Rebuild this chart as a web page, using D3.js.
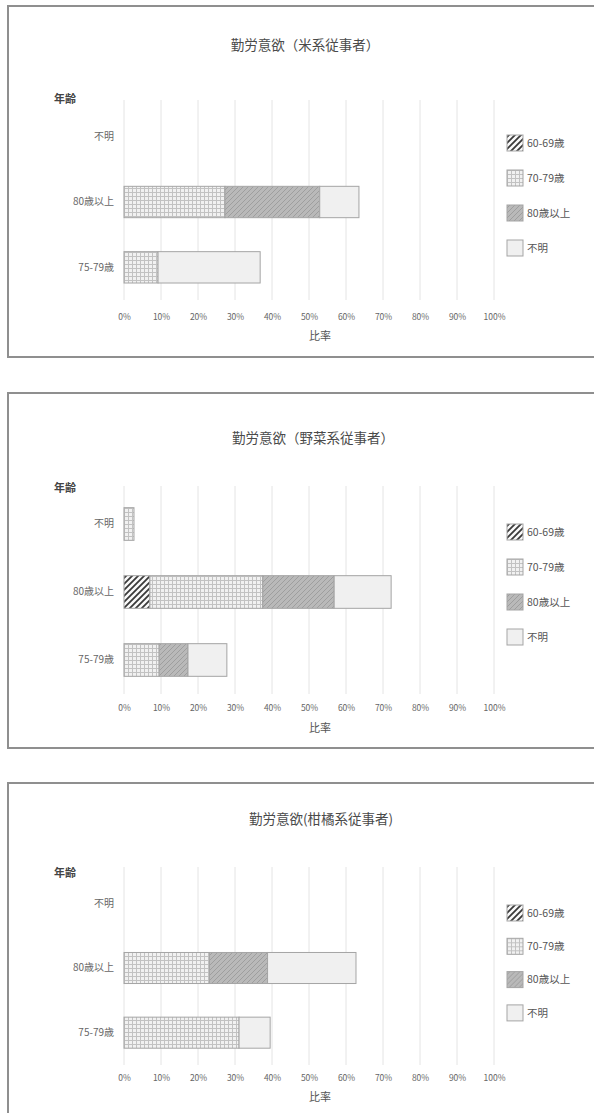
<!DOCTYPE html>
<html lang="ja">
<head>
<meta charset="utf-8">
<script src="https://cdn.jsdelivr.net/npm/d3@7"></script>
<style>
  html, body { margin: 0; padding: 0; background: #fff; }
  svg { display: block; }
  text { font-family: "Noto Sans CJK JP", "Noto Sans", sans-serif; }
</style>
</head>
<body>
<svg id="chart" width="594" height="1113"></svg>
<script>
// Age groups on the vertical axis (top to bottom)
const categories = ["不明", "80歳以上", "75-79歳"];
// Stacked series (legend order)
const seriesNames = ["60-69歳", "70-79歳", "80歳以上", "不明"];
const tickLabels = ["0%", "10%", "20%", "30%", "40%", "50%", "60%", "70%", "80%", "90%", "100%"];
const tickValues = [0, 10, 20, 30, 40, 50, 60, 70, 80, 90, 100];
const chartTitles = ["勤労意欲（米系従事者）", "勤労意欲（野菜系従事者）", "勤労意欲(柑橘系従事者)"];
const yAxisTitle = "年齢";
const xAxisTitle = "比率";

// Percentages per category: [不明, 80歳以上, 75-79歳]
const rice6069 = [0, 0, 0];
const rice7079 = [0, 27.3, 9.2];
const rice80 = [0, 25.6, 0];
const riceUnknown = [0, 10.6, 27.6];

const veg6069 = [0, 7.0, 0];
const veg7079 = [2.7, 30.5, 9.5];
const veg80 = [0, 19.3, 7.8];
const vegUnknown = [0, 15.4, 10.5];

const citrus6069 = [0, 0, 0];
const citrus7079 = [0, 23.1, 31.1];
const citrus80 = [0, 15.7, 0];
const citrusUnknown = [0, 23.9, 8.4];

const panelSeries = [
  [rice6069, rice7079, rice80, riceUnknown],
  [veg6069, veg7079, veg80, vegUnknown],
  [citrus6069, citrus7079, citrus80, citrusUnknown]
];

// Layout of each framed panel
const panelLayout = [
  {top: 6,   bottom: 357,  titleX: 305, titleY: 45,  ageY: 99,  plotTop: 104, plotBottom: 300,  tickY: 317,  axisTitleY: 336,  legendY: 143, legendStep: 35},
  {top: 393, bottom: 748,  titleX: 313, titleY: 438, ageY: 488, plotTop: 490, plotBottom: 694,  tickY: 708,  axisTitleY: 728,  legendY: 532, legendStep: 35},
  {top: 783, bottom: 1140, titleX: 321, titleY: 819, ageY: 873, plotTop: 871, plotBottom: 1065, tickY: 1078, axisTitleY: 1097, legendY: 913, legendStep: 33.3}
];

const svg = d3.select("#chart");
const defs = svg.append("defs");

// Fill patterns for the four series
const p1 = defs.append("pattern").attr("id", "pat6069")
  .attr("patternUnits", "userSpaceOnUse").attr("width", 6).attr("height", 6);
p1.append("rect").attr("width", 6).attr("height", 6).attr("fill", "#fafafa");
p1.append("path").attr("d", "M-1.5,1.5 l3,-3 M0,6 l6,-6 M4.5,7.5 l3,-3")
  .attr("stroke", "#3a3a3a").attr("stroke-width", 1.8);

const p2 = defs.append("pattern").attr("id", "pat7079")
  .attr("patternUnits", "userSpaceOnUse").attr("width", 8).attr("height", 8);
p2.append("rect").attr("width", 8).attr("height", 8).attr("fill", "#f1f1f1");
p2.append("path").attr("d", "M0.5,0 V8 M4.5,0 V8 M0,0.5 H8 M0,4.5 H8")
  .attr("stroke", "#c2c2c2").attr("stroke-width", 1);

const p3 = defs.append("pattern").attr("id", "pat80")
  .attr("patternUnits", "userSpaceOnUse").attr("width", 5).attr("height", 5);
p3.append("rect").attr("width", 5).attr("height", 5).attr("fill", "#b9b9b9");
p3.append("path").attr("d", "M-1.25,1.25 l2.5,-2.5 M0,5 l5,-5 M3.75,6.25 l2.5,-2.5")
  .attr("stroke", "#9e9e9e").attr("stroke-width", 1);

const fills = ["url(#pat6069)", "url(#pat7079)", "url(#pat80)", "#f0f0f0"];
const color = d3.scaleOrdinal(seriesNames, fills);

const x = d3.scaleLinear().domain([0, 100]).range([124, 494]);

panelLayout.forEach((L, pi) => {
  const g = svg.append("g");

  // Panel frame
  g.append("rect")
    .attr("x", 8).attr("y", L.top)
    .attr("width", 600).attr("height", L.bottom - L.top)
    .attr("fill", "#fff").attr("stroke", "#8f8f8f").attr("stroke-width", 2);

  // Title
  g.append("text")
    .attr("x", L.titleX).attr("y", L.titleY).attr("dy", "0.35em")
    .attr("text-anchor", "middle").attr("font-size", 13.5).attr("fill", "#4a4a4a")
    .text(chartTitles[pi]);

  // Vertical axis title
  g.append("text")
    .attr("x", 54).attr("y", L.ageY).attr("dy", "0.35em")
    .attr("font-size", 11).attr("font-weight", "bold").attr("fill", "#444")
    .text(yAxisTitle);

  const y = d3.scaleBand().domain(categories)
    .range([L.plotTop, L.plotBottom]).paddingInner(0.52).paddingOuter(0.26);

  // Vertical gridlines
  g.append("g").selectAll("line").data(tickValues).join("line")
    .attr("x1", d => x(d)).attr("x2", d => x(d))
    .attr("y1", L.plotTop - 4).attr("y2", L.plotBottom)
    .attr("stroke", "#e4e4e4").attr("stroke-width", 1);

  // Stacked bars
  const rows = categories.map((c, ci) => {
    const row = {category: c};
    seriesNames.forEach((s, si) => { row[s] = panelSeries[pi][si][ci]; });
    return row;
  });
  const stacked = d3.stack().keys(seriesNames)(rows);

  g.append("g").selectAll("g").data(stacked).join("g")
    .attr("fill", d => color(d.key))
    .selectAll("rect").data(d => d.filter(v => v[1] - v[0] > 0)).join("rect")
    .attr("x", d => x(d[0]))
    .attr("y", d => y(d.data.category))
    .attr("width", d => x(d[1]) - x(d[0]))
    .attr("height", y.bandwidth())
    .attr("stroke", "#a5a5a5").attr("stroke-width", 1);

  // Category labels
  const yAxis = g.append("g").attr("transform", "translate(114,0)")
    .call(d3.axisLeft(y).tickSize(0).tickPadding(0));
  yAxis.select(".domain").remove();
  yAxis.selectAll("text")
    .attr("font-family", "'Noto Sans CJK JP', sans-serif")
    .attr("font-size", 10).attr("fill", "#666");

  // Percentage labels
  const xAxis = g.append("g").attr("transform", `translate(0,${L.tickY})`)
    .call(d3.axisBottom(x).tickValues(tickValues)
      .tickFormat((d, i) => tickLabels[i]).tickSize(0).tickPadding(0));
  xAxis.select(".domain").remove();
  xAxis.selectAll("text")
    .attr("dy", "0.35em")
    .attr("font-family", "'Noto Sans CJK JP', sans-serif")
    .attr("font-size", 8.5).attr("fill", "#666");

  // Horizontal axis title
  g.append("text")
    .attr("x", 320).attr("y", L.axisTitleY).attr("dy", "0.35em")
    .attr("text-anchor", "middle").attr("font-size", 11).attr("fill", "#555")
    .text(xAxisTitle);

  // Legend
  const leg = g.append("g").selectAll("g").data(seriesNames).join("g")
    .attr("transform", (d, i) => `translate(507,${L.legendY + i * L.legendStep})`);
  leg.append("rect")
    .attr("x", 0).attr("y", -8).attr("width", 16).attr("height", 16)
    .attr("fill", d => color(d)).attr("stroke", "#a5a5a5").attr("stroke-width", 1);
  leg.append("text")
    .attr("x", 20).attr("dy", "0.35em")
    .attr("font-size", 10.5).attr("fill", "#555")
    .text(d => d);
});
</script>
</body>
</html>
